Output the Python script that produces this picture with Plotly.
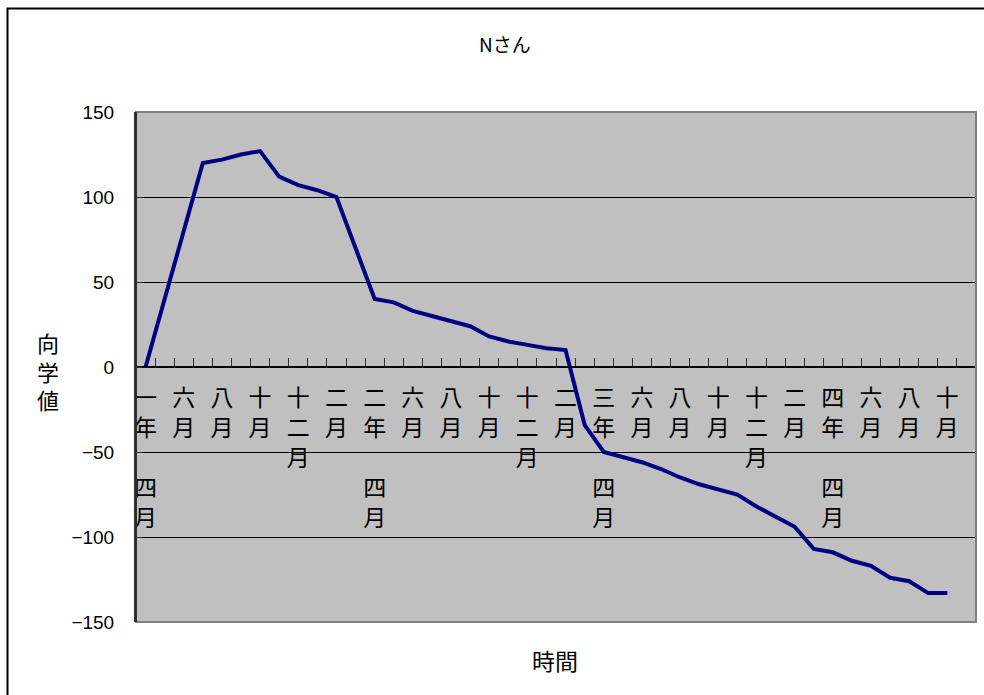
import plotly.graph_objects as go

# Months from year 1 April to year 4 November (a space marks the break between year and month)
months = [
    "一年 四月", "五月", "六月", "七月", "八月", "九月", "十月", "十一月", "十二月", "一月", "二月", "三月",
    "二年 四月", "五月", "六月", "七月", "八月", "九月", "十月", "十一月", "十二月", "一月", "二月", "三月",
    "三年 四月", "五月", "六月", "七月", "八月", "九月", "十月", "十一月", "十二月", "一月", "二月", "三月",
    "四年 四月", "五月", "六月", "七月", "八月", "九月", "十月", "十一月",
]

# 向学値 per month
values = [
    0, 41, 80, 120, 122, 125, 127, 112, 107, 104, 100, 70,
    40, 38, 33, 30, 27, 24, 18, 15, 13, 11, 10, -34,
    -50, -53, -56, -60, -65, -69, -72, -75, -82, -88, -94, -107,
    -109, -114, -117, -124, -126, -133, -133,
]

y_ticks = [-150, -100, -50, 0, 50, 100, 150]

JP = "Noto Sans CJK JP"


def stacked(name):
    # one character per line, blank line where the year/month break is
    return "<br>".join("\u3000" if ch == " " else ch for ch in name)


x_idx = list(range(len(values)))
label_idx = list(range(0, len(months), 2))
label_text = [stacked(months[i]) for i in label_idx]

fig = go.Figure()
fig.add_trace(go.Scatter(
    x=x_idx, y=values, mode="lines",
    line=dict(color="#000080", width=4),
    hoverinfo="skip", showlegend=False,
))

fig.update_layout(
    width=984, height=695, autosize=False,
    margin=dict(l=136, r=8, t=112, b=73),
    paper_bgcolor="white",
    plot_bgcolor="#C0C0C0",
    title=dict(text="Nさん", x=0.513, xref="container", xanchor="center",
               y=1 - 45 / 695, yref="container", yanchor="middle",
               font=dict(family=JP, size=19, color="black")),
    xaxis=dict(
        range=[-0.5, len(months) - 0.5],
        anchor="free", position=0.5,
        showline=True, linecolor="black", linewidth=1.5,
        showgrid=False, zeroline=False,
        tickmode="array", tickvals=label_idx, ticktext=label_text,
        ticks="", ticklabelstandoff=11,
        tickfont=dict(family=JP, size=23, color="black"),
        minor=dict(tickmode="array",
                   tickvals=[i + 0.5 for i in range(len(months) - 1)],
                   ticks="inside", ticklen=8, tickwidth=1, tickcolor="#303030",
                   showgrid=False),
        fixedrange=True,
    ),
    yaxis=dict(
        range=[-150, 150],
        showline=True, linecolor="#303030", linewidth=2,
        showgrid=True, gridcolor="black", gridwidth=1,
        zeroline=False,
        tickmode="array", tickvals=y_ticks,
        ticks="inside", ticklen=6, tickcolor="#303030",
        ticklabelstandoff=16,
        tickfont=dict(family="Liberation Sans", size=19, color="black"),
        fixedrange=True,
    ),
)

# plot area frame
fig.add_shape(type="rect", xref="x domain", yref="y domain",
              x0=0, x1=1, y0=0, y1=1,
              line=dict(color="#808080", width=2), layer="above")
fig.add_shape(type="line", xref="x domain", yref="y domain",
              x0=0, x1=0, y0=0, y1=1,
              line=dict(color="#303030", width=2), layer="above")

# outer chart frame
fig.add_shape(type="rect", xref="paper", yref="paper",
              x0=(7.5 - 136) / 840, x1=(992 - 136) / 840,
              y0=(622 - 702) / 510, y1=(622 - 8.5) / 510,
              line=dict(color="black", width=2), layer="above")

# axis titles
fig.add_annotation(text="時間", xref="paper", yref="paper",
                   x=(555 - 136) / 840, y=(622 - 660) / 510,
                   xanchor="center", yanchor="middle", showarrow=False,
                   font=dict(family=JP, size=23, color="black"))
fig.add_annotation(text="向<br>学<br>値", xref="paper", yref="paper",
                   x=(47.5 - 136) / 840, y=(622 - 370) / 510,
                   xanchor="center", yanchor="middle", showarrow=False,
                   font=dict(family=JP, size=22, color="black"))

fig.write_html("out.html")
